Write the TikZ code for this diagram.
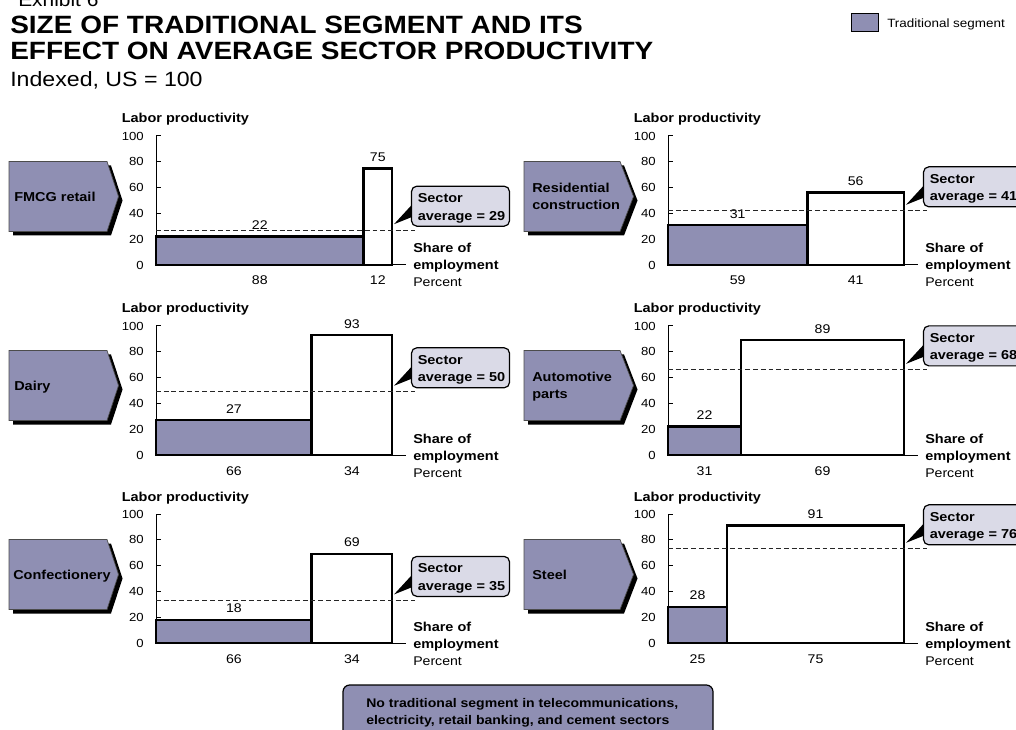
\documentclass[tikz,border=0pt]{standalone}
\usepackage{fontspec}
\setmainfont{Liberation Sans}[FakeStretch=1.12]
\definecolor{trad}{HTML}{8F8FB3}
\definecolor{calloutfill}{HTML}{DADAE7}

% One productivity chart: #1 axis x, #2 zero line y, #3 traditional share,
% #4 traditional value, #5 modern value, #6 drawn average level,
% #7 printed sector average, #8 name prefix
\newcommand\chartpanel[8]{%
  \pgfmathsetmacro\xs{#1+2.36*#3}%
  \pgfmathsetmacro\xe{#1+236}%
  \pgfmathsetmacro\ya{#2-1.29*#4}%
  \pgfmathsetmacro\yb{#2-1.29*#5}%
  \pgfmathsetmacro\yd{#2-1.29*#6}%
  \pgfmathsetmacro\bx{#1+255.5}%
  \pgfmathsetmacro\bt{\yd-44}%
  \pgfmathsetmacro\cxa{(#1+\xs)/2}%
  \pgfmathsetmacro\cxb{(\xs+\xe)/2}%
  \pgfmathtruncatemacro\other{100-#3}%
  % axes and ticks
  \draw[axis] (#1,#2) -- (#1,#2-129);
  \draw[axis] (#1,#2) -- (#1+250,#2);
  \foreach \v in {0,20,...,100}{%
    \draw[axis] (#1,#2-1.29*\v) -- ++(5,0);
    \node[ticklbl] (#8-t\v) at (#1-12,#2-1.29*\v) {\v};
  }
  \node[boldtxt] (#8-ylab) at (#1-34.5,#2-142) {Labor productivity};
  % bars
  \filldraw[barline, fill=trad] (#1,#2) rectangle (\xs,\ya);
  \filldraw[barline, fill=white] (\xs,#2) rectangle (\xe,\yb);
  \node[numlbl] (#8-v1) at (\cxa,\ya-7) {#4};
  \node[numlbl] (#8-v2) at (\cxb,\yb-7) {#5};
  \node[numlbl] (#8-s1) at (\cxa,#2+20) {#3};
  \node[numlbl] (#8-s2) at (\cxb,#2+20) {\other};
  % sector average
  \draw[avgline] (#1,\yd) -- (#1+259,\yd);
  \filldraw[fill=calloutfill, draw=black, line width=0.9pt, rounded corners=4pt]
    (\bx,\bt) rectangle (\bx+98,\bt+40);
  \coordinate (#8-tip) at (#1+238,\yd-6);
  \coordinate (#8-ta) at (\bx,\bt+19);
  \coordinate (#8-tb) at (\bx,\bt+31);
  \fill[black] (#8-tip) -- (#8-ta) -- (#8-tb) -- cycle;
  \node[boldtxt] (#8-c1) at (\bx+6,\bt+16.5) {Sector};
  \node[boldtxt] (#8-c2) at (\bx+6,\bt+34) {average = #7};
  % x axis caption
  \node[boldtxt] (#8-x1) at (#1+257,#2-12) {Share of};
  \node[boldtxt] (#8-x2) at (#1+257,#2+5) {employment};
  \node[plaintxt] (#8-x3) at (#1+257,#2+22) {Percent};
}

% Sector tag: #1 left, #2 flat right edge, #3 tip x, #4 centre y
\newcommand\sectortag[4]{%
  \fill[black, shift={(4,4)}] (#1,#4-35) -- (#2,#4-35) -- (#3,#4) -- (#2,#4+35) -- (#1,#4+35) -- cycle;
  \filldraw[fill=trad, draw=black!70, line width=0.5pt]
    (#1,#4-35) -- (#2,#4-35) -- (#3,#4) -- (#2,#4+35) -- (#1,#4+35) -- cycle;
}

\begin{document}
\begin{tikzpicture}[x=0.75pt, y=-0.75pt,
  axis/.style={line width=0.75pt, draw=black},
  barline/.style={line width=1.9pt, draw=black},
  avgline/.style={line width=0.75pt, draw=black!85, dash pattern=on 3.6pt off 2.2pt},
  ticklbl/.style={font=\fontsize{8.8}{10}\selectfont, inner sep=0pt, anchor=east},
  numlbl/.style={font=\fontsize{9.45}{11}\selectfont, inner sep=0pt, anchor=base},
  boldtxt/.style={font=\fontsize{9.7}{11}\selectfont\bfseries, inner sep=0pt, anchor=base west},
  plaintxt/.style={font=\fontsize{9.45}{11}\selectfont, inner sep=0pt, anchor=base west},
  titletxt/.style={font=\fontsize{18.75}{22}\selectfont\bfseries, inner sep=0pt, anchor=base west},
  notetxt/.style={font=\fontsize{9.4}{11}\selectfont\bfseries, inner sep=0pt, anchor=base west}]
\useasboundingbox (0,0) rectangle (1016,730);
\clip (0,0) rectangle (1016,730);

% heading
\node[font=\fontsize{14}{16}\selectfont, inner sep=0pt, anchor=base west] (exhibit) at (18,6.5) {Exhibit 6};
\node[titletxt] (title1) at (10,34) {SIZE OF TRADITIONAL SEGMENT AND ITS};
\node[titletxt] (title2) at (10,60) {EFFECT ON AVERAGE SECTOR PRODUCTIVITY};
\node[font=\fontsize{15.5}{18}\selectfont, inner sep=0pt, anchor=base west] (subtitle) at (10,87) {Indexed, US = 100};

% legend
\filldraw[fill=trad, draw=black, line width=0.75pt] (851,14) rectangle (878,32);
\node[font=\fontsize{9}{11}\selectfont, inner sep=0pt, anchor=base west] (legend) at (887,27.5) {Traditional segment};

% sector tags
\sectortag{9}{107}{118.5}{196.5}
\sectortag{524}{620}{633.5}{196.5}
\sectortag{9}{107}{118.5}{385.5}
\sectortag{524}{620}{633.5}{385.5}
\sectortag{9}{107}{118.5}{574.5}
\sectortag{524}{620}{633.5}{574.5}
\node[boldtxt] (tag-fmcg) at (14,201.5) {FMCG retail};
\node[boldtxt] (tag-resi1) at (532,193) {Residential};
\node[boldtxt] (tag-resi2) at (532,209.5) {construction};
\node[boldtxt] (tag-dairy) at (14,390.5) {Dairy};
\node[boldtxt] (tag-auto1) at (532,382) {Automotive};
\node[boldtxt] (tag-auto2) at (532,398.5) {parts};
\node[boldtxt] (tag-conf) at (13,579) {Confectionery};
\node[boldtxt] (tag-steel) at (532,579.5) {Steel};

% charts
\chartpanel{156}{265}{88}{22}{75}{27}{29}{fmcg}
\chartpanel{668}{265}{59}{31}{56}{42}{41}{resi}
\chartpanel{156}{455}{66}{27}{93}{49}{50}{dairy}
\chartpanel{668}{455}{31}{22}{89}{66}{68}{auto}
\chartpanel{156}{643}{66}{18}{69}{33}{35}{conf}
\chartpanel{668}{643}{25}{28}{91}{73}{76}{steel}

% footnote box
\filldraw[fill=trad, draw=black, line width=0.9pt, rounded corners=5pt] (343,685) rectangle (713,750);
\node[notetxt] (note1) at (366,707.3) {No traditional segment in telecommunications,};
\node[notetxt] (note2) at (366,724.3) {electricity, retail banking, and cement sectors};
\end{tikzpicture}
\end{document}
